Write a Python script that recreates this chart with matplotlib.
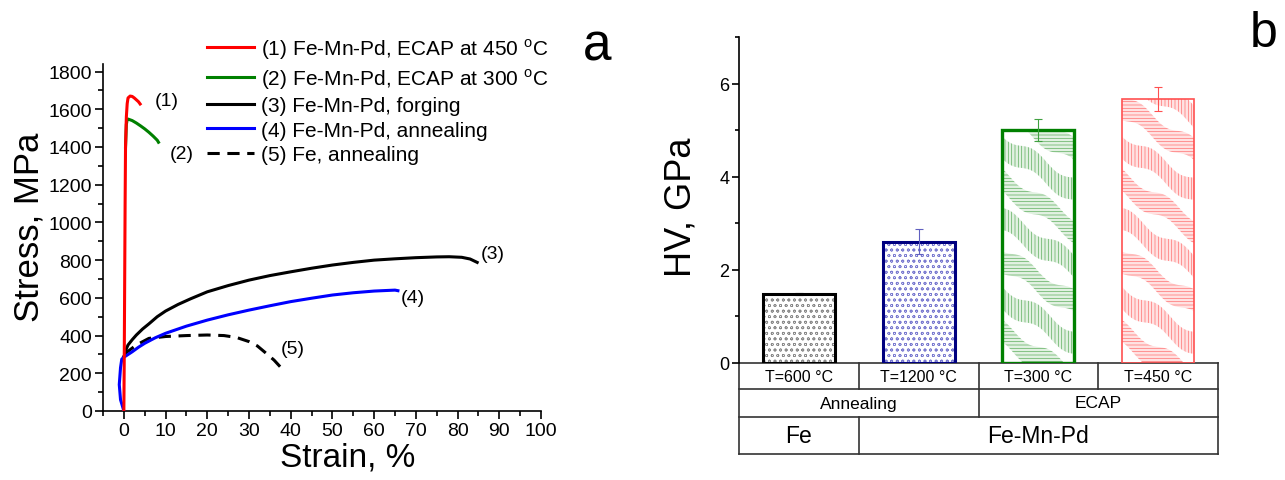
import matplotlib
matplotlib.use('Agg')
import matplotlib.pyplot as plt
import matplotlib.transforms as mtransforms
from matplotlib.ticker import MultipleLocator
import numpy as np

plt.rcParams['font.family'] = ['Liberation Sans', 'DejaVu Sans']
plt.rcParams['hatch.linewidth'] = 0.5
plt.rcParams['mathtext.fontset'] = 'custom'
plt.rcParams['mathtext.rm'] = 'Liberation Sans'

# ==================== data: stress-strain curves ====================
x1 = [0, 0.1, 0.2, 0.3, 0.4, 0.6, 0.8, 1.0, 1.5, 2.0, 2.5, 3.0, 3.5, 3.9]
y1 = [0, 300, 700, 1100, 1400, 1560, 1630, 1660, 1670, 1668, 1660, 1650, 1640, 1628]

x2 = [0.4, 0.6, 0.8, 1.0, 2.0, 3.0, 4.0, 5.0, 6.0, 7.0, 8.0, 8.3]
y2 = [1400, 1520, 1545, 1548, 1540, 1527, 1512, 1496, 1478, 1458, 1436, 1425]

x3 = [0, 0.3, 0.6, 1, 2, 3, 4.5, 6, 8, 10, 13, 16, 20, 25, 30, 35, 40, 45,
      50, 55, 60, 65, 70, 75, 78, 81, 83, 84.7]
y3 = [290, 300, 330, 350, 378, 403, 435, 462, 500, 530, 565, 595, 632, 665,
      694, 718, 738, 757, 774, 788, 800, 807, 813, 817, 818, 815, 806, 788]

x4 = [0, -0.8, -1.1, -0.8, -0.5, 0, 2, 3.5, 5, 7.5, 10, 15, 20, 25, 30, 35,
      40, 45, 50, 55, 60, 65, 65.7]
y4 = [0, 60, 140, 230, 275, 285, 314, 338, 359, 388, 412, 450, 482, 510, 535,
      558, 580, 598, 615, 627, 636, 641, 638]

x5 = [0, 3, 6, 10, 15, 20, 24, 27, 30, 32, 34, 36, 38]
y5 = [300, 350, 385, 395, 400, 403, 400, 390, 368, 345, 308, 270, 222]

curve_labels = ['(1) Fe-Mn-Pd, ECAP at 450 $^{\\mathregular{o}}$C',
                '(2) Fe-Mn-Pd, ECAP at 300 $^{\\mathregular{o}}$C',
                '(3) Fe-Mn-Pd, forging',
                '(4) Fe-Mn-Pd, annealing',
                '(5) Fe, annealing']

# ==================== data: hardness ====================
hv = [1.48, 2.60, 5.00, 5.67]
hv_err = [0.02, 0.27, 0.24, 0.25]
temps = ['T=600 °C', 'T=1200 °C', 'T=300 °C', 'T=450 °C']
processes = ['Annealing', 'ECAP']
materials = ['Fe', 'Fe-Mn-Pd']

fig = plt.figure(figsize=(12.85, 4.81), dpi=100)

# ==================== panel a ====================
ax = fig.add_axes([103 / 1285, 1 - 412 / 481, (541 - 103) / 1285, (412 - 65) / 481])
ax.plot(x4, y4, color='#0000FF', lw=2.2, label=curve_labels[3], zorder=3)
ax.plot(x5, y5, color='black', lw=2.2, ls=(0, (4, 2.5)), label=curve_labels[4], zorder=2)
ax.plot(x3, y3, color='black', lw=2.2, label=curve_labels[2], zorder=2)
ax.plot(x2, y2, color='#008000', lw=2.2, label=curve_labels[1], zorder=3)
ax.plot(x1, y1, color='#FF0000', lw=2.2, label=curve_labels[0], zorder=4)

ax.set_xlim(-5, 100)
ax.set_ylim(0, 1840)
ax.xaxis.set_major_locator(MultipleLocator(10))
ax.xaxis.set_minor_locator(MultipleLocator(5))
ax.yaxis.set_major_locator(MultipleLocator(200))
ax.yaxis.set_minor_locator(MultipleLocator(100))
for s in ['top', 'right']:
    ax.spines[s].set_visible(False)
for s in ['left', 'bottom']:
    ax.spines[s].set_linewidth(1.2)
ax.tick_params(which='major', length=6, width=1.2, labelsize=14, pad=2)
ax.tick_params(which='minor', length=3.5, width=1.2)
ax.set_xlabel('Strain, %', fontsize=24, labelpad=2)
ax.set_ylabel('Stress, MPa', fontsize=25, labelpad=2)
ax.xaxis.label.set_x((348 - 103) / 438)
ax.yaxis.label.set_y((412 - 227) / 347)

for txt, tx, ty in [('(1)', 10.3, 1648), ('(2)', 13.9, 1366), ('(3)', 88.4, 836),
                    ('(4)', 69.2, 602), ('(5)', 40.6, 329)]:
    ax.text(tx, ty, txt, fontsize=14, ha='center', va='center')

handles, labels = ax.get_legend_handles_labels()
order = [4, 3, 2, 0, 1]
leg = ax.legend([handles[i] for i in order], [labels[i] for i in order],
                loc='upper left', bbox_to_anchor=(207 / 1285, 1 - 37 / 481),
                bbox_transform=fig.transFigure, frameon=False, fontsize=15,
                handlelength=2.25, handletextpad=0.35, labelspacing=0.26,
                borderaxespad=0, borderpad=0)

fig.text(597 / 1285, 1 - 47 / 481, 'a', fontsize=37, ha='center', va='center')

# ==================== panel b ====================
bx = fig.add_axes([739 / 1285, 1 - 364 / 481, (1218 - 739) / 1285, (364 - 38) / 481])
pos = np.arange(len(hv))
edge_cols = ['black', '#000080', '#008000', '#FF5050']
hatch_cols = ['#8A8A8A', '#7A7AD0', '#5DAE5D', '#FF7070']
ribbon_faces = [None, None, '#E2F1E2', '#FFE2E2']
edge_lw = [2.2, 2.2, 2.4, 1.2]
err_cols = ['black', '#6060C0', '#40A040', '#FF5050']
px_x = 120.0          # pixels per category
px_y = 326 / 7.0      # pixels per GPa

for i in range(len(hv)):
    outline = bx.bar(pos[i], hv[i], width=0.6, fill=False, edgecolor=edge_cols[i],
                     linewidth=edge_lw[i], zorder=3)[0]
    if ribbon_faces[i] is None:
        bx.bar(pos[i], hv[i], width=0.6, color='white', edgecolor=hatch_cols[i],
               hatch='ooo', linewidth=0, zorder=2)
    else:
        # wavy diagonal ribbons, clipped to the bar
        x0 = pos[i] - 0.3
        xs = np.linspace(x0, pos[i] + 0.3, 80)
        xp = (xs - x0) * px_x
        hpx = hv[i] * px_y
        for k, c in enumerate(np.arange(-10, hpx + 70, 38)):
            mid = c - 0.63 * xp + 4 * np.sin(2 * np.pi * xp / 50 + 1.7 * k)
            coll = bx.fill_between(xs, (mid - 11) / px_y, (mid + 11) / px_y,
                                   facecolor=ribbon_faces[i], edgecolor=hatch_cols[i],
                                   hatch='-----' if k % 2 else '|||||',
                                   linewidth=0, zorder=2)
            coll.set_clip_path(outline)
    bx.errorbar(pos[i], hv[i], yerr=hv_err[i], color=err_cols[i], lw=0.8,
                capsize=3, capthick=0.8, zorder=4)

bx.set_xlim(-0.5, 3.5)
bx.set_ylim(0, 7)
bx.yaxis.set_major_locator(MultipleLocator(2))
bx.yaxis.set_minor_locator(MultipleLocator(1))
for s in ['top', 'right', 'bottom']:
    bx.spines[s].set_visible(False)
bx.spines['left'].set_linewidth(1.2)
bx.set_xticks([])
bx.tick_params(which='major', length=5, width=1.2, labelsize=13, pad=2)
bx.tick_params(which='minor', length=3, width=1.2)
bx.set_ylabel('HV, GPa', fontsize=26, labelpad=15)
bx.yaxis.label.set_y((364 - 207) / 326)

# table under the bars
tr = mtransforms.blended_transform_factory(bx.transData, bx.transAxes)
h = 364 - 38
r1, r2, r3 = -26 / h, -54 / h, -91 / h
lk = dict(color='#333333', lw=1.2, transform=tr, clip_on=False)
for yy in [0, r1, r2, r3]:
    bx.plot([-0.5, 3.5], [yy, yy], **lk)
bx.plot([-0.5, -0.5], [0, r3], **lk)
bx.plot([3.5, 3.5], [0, r3], **lk)
bx.plot([0.5, 0.5], [0, r1], **lk)
bx.plot([0.5, 0.5], [r2, r3], **lk)
bx.plot([1.5, 1.5], [0, r2], **lk)
bx.plot([2.5, 2.5], [0, r1], **lk)

for i, t in enumerate(temps):
    bx.text(pos[i], r1 / 2, t, transform=tr, fontsize=11.5, ha='center', va='center')
bx.text(0.5, (r1 + r2) / 2, processes[0], transform=tr, fontsize=12.5, ha='center', va='center')
bx.text(2.5, (r1 + r2) / 2, processes[1], transform=tr, fontsize=12.5, ha='center', va='center')
bx.text(0, (r2 + r3) / 2, materials[0], transform=tr, fontsize=16.5, ha='center', va='center')
bx.text(2.0, (r2 + r3) / 2, materials[1], transform=tr, fontsize=16.5, ha='center', va='center')

fig.text(1264 / 1285, 1 - 34 / 481, 'b', fontsize=36, ha='center', va='center')

fig.savefig('out.png', dpi=100, facecolor='white')
